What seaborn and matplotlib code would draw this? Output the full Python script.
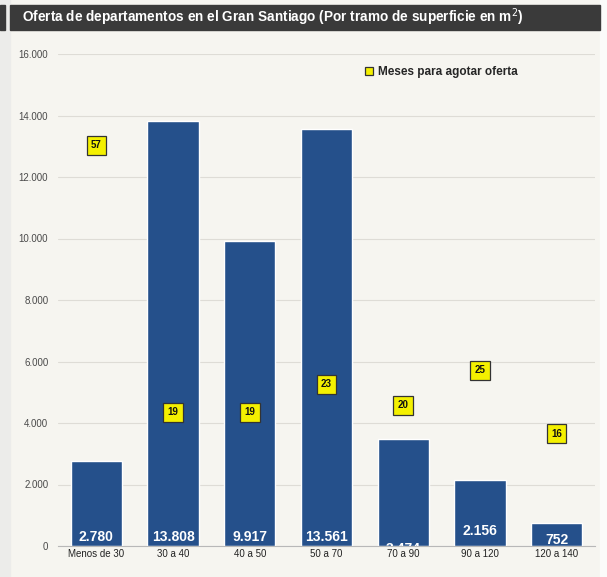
import matplotlib
matplotlib.use("Agg")
import matplotlib.pyplot as plt
import seaborn as sns
import pandas as pd
from matplotlib.patches import Rectangle
from matplotlib.lines import Line2D
from matplotlib.ticker import FuncFormatter

categories = ["Menos de 30", "30 a 40", "40 a 50", "50 a 70", "70 a 90", "90 a 120", "120 a 140"]
oferta = [2780, 13808, 9917, 13561, 3474, 2156, 752]
meses = [57, 19, 19, 23, 20, 25, 16]
yticks = [0, 2000, 4000, 6000, 8000, 10000, 12000, 14000, 16000]

title = "Oferta de departamentos en el Gran Santiago (Por tramo de superficie en m$^2$)"
legend_label = "Meses para agotar oferta"

BG = "#f6f5f0"
BAR = "#25508b"
YEL = "#f4f000"

sns.set_theme(style="white")
plt.rcParams["font.family"] = ["Liberation Sans", "DejaVu Sans"]

W, H = 607, 577
fig = plt.figure(figsize=(W / 100, H / 100), dpi=100)
fig.patch.set_facecolor(BG)

# side strip and title bars
fig.patches.append(Rectangle((0, 0), 10 / W, 1, transform=fig.transFigure, color="#ececea", zorder=0))
fig.patches.append(Rectangle((600 / W, 0), 7 / W, 1, transform=fig.transFigure, color="#fbfbfa", zorder=0))
fig.patches.append(Rectangle((0, 1 - 30 / H), 5 / W, 25 / H, transform=fig.transFigure, color="#3a3a3a", zorder=1))
fig.patches.append(Rectangle((10 / W, 1 - 30 / H), 590 / W, 25 / H, transform=fig.transFigure, color="#3a3a3a", zorder=1))
fig.text(22 / W, 1 - 17.5 / H, title, color="white", fontsize=9.85, fontweight="bold", va="center", ha="left")

ax = fig.add_axes([58 / W, 1 - 546 / H, (595 - 58) / W, (546 - 54) / H])
ax.set_facecolor(BG)

df = pd.DataFrame({"tramo": categories, "oferta": oferta})
sns.barplot(data=df, x="tramo", y="oferta", color=BAR, width=0.67, saturation=1, ax=ax, zorder=2)
ax.set_ylim(0, 16000)
ax.set_xlim(-0.5, len(categories) - 0.5)
ax.set_yticks(yticks)
ax.yaxis.set_major_formatter(FuncFormatter(lambda v, p: f"{int(v):,}".replace(",", ".")))
ax.grid(axis="y", color="#dedcd6", lw=0.8, zorder=0)
ax.set_axisbelow(True)
for s in ["top", "right", "left"]:
    ax.spines[s].set_visible(False)
ax.spines["bottom"].set_color("#b8b8b8")
ax.spines["bottom"].set_linewidth(0.8)
ax.tick_params(axis="y", labelsize=7, colors="#4a4a4a", length=0, pad=7)
ax.tick_params(axis="x", labelsize=7, colors="#222222", length=0, pad=2)
ax.set_xlabel("")
ax.set_ylabel("")

for i, v in enumerate(oferta):
    label = f"{v:,}".replace(",", ".")
    if i == 4:
        ax.text(i, -110, label, color="white", fontsize=10, fontweight="bold",
                ha="center", va="center", clip_on=True, zorder=3)
    else:
        yoff = 300 if v > 2500 else (480 if v > 1500 else 200)
        ax.text(i, yoff, label, color="white", fontsize=10, fontweight="bold",
                ha="center", va="center", zorder=3)

ax2 = ax.twinx()
ax2.set_ylim(0, 70)
ax2.axis("off")
for i, m in enumerate(meses):
    ax2.text(i, m, str(m), fontsize=7, fontweight="bold", color="#111111", ha="center", va="center",
             bbox=dict(boxstyle="square,pad=0.45", fc=YEL, ec="#333333", lw=0.9), zorder=4)

handle = Line2D([], [], marker="s", linestyle="none", markersize=6, markerfacecolor=YEL,
                markeredgecolor="#333333", markeredgewidth=0.9)
fig.legend([handle], [legend_label], loc="center left", bbox_to_anchor=(352 / W, 1 - 72 / H),
           frameon=False, prop={"size": 8.5, "weight": "bold"}, handletextpad=0.3, handlelength=1.0)

fig.savefig("out.png", dpi=100, facecolor=fig.get_facecolor())
